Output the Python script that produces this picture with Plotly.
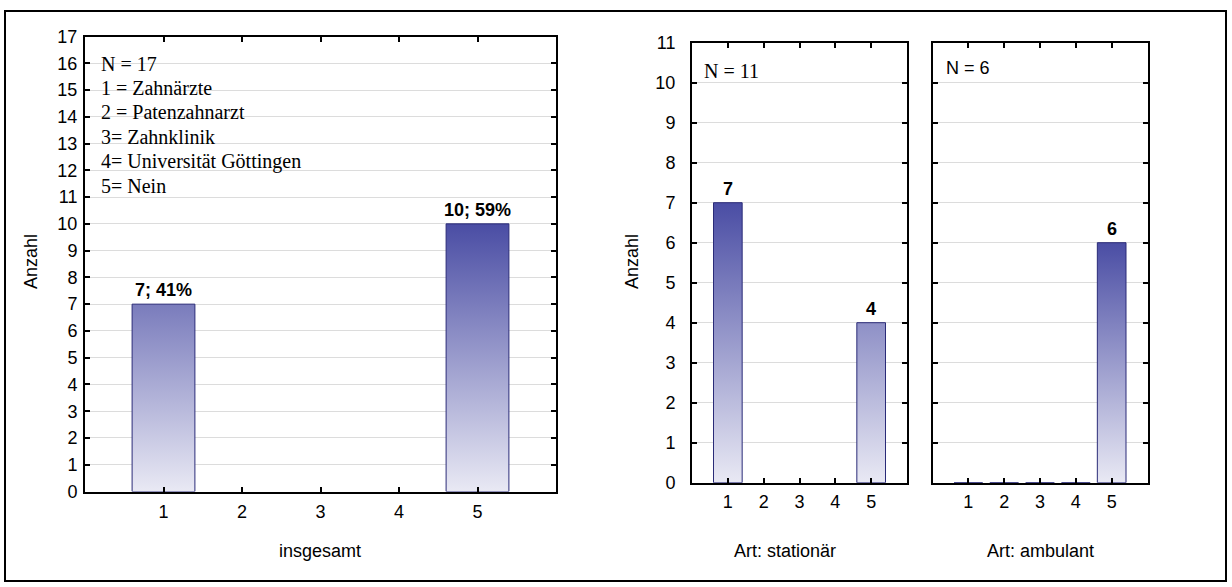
import plotly.graph_objects as go

# ---------------- data ----------------
categories = [1, 2, 3, 4, 5]
insgesamt = [7, None, None, None, 10]
stationaer = [7, None, None, None, 4]
ambulant = [0, 0, 0, 0, 6]
legend_lines = ["N = 17", "1 = Zahnärzte", "2 = Patenzahnarzt", "3= Zahnklinik",
                "4= Universität Göttingen", "5= Nein"]
n_stationaer_label = "N = 11"
n_ambulant_label = "N = 6"
y_ticks_left = list(range(0, 18))
y_ticks_right = list(range(0, 12))
x_titles = ["insgesamt", "Art: stationär", "Art: ambulant"]

W, H = 1232, 587
SANS = "Arial, Liberation Sans, sans-serif"
SERIF = "Times New Roman, Liberation Serif, serif"
DARK = "#4a4da4"
LIGHT = "#e9e9f4"
OUTLINE = "#2a2b78"


def px(x):
    return x / W


def py(y):
    return 1 - y / H


def bar_polygons(cats, vals, width=0.8):
    xs, ys = [], []
    for c, v in zip(cats, vals):
        if v is None:
            continue
        h = width / 2
        xs += [c - h, c - h, c + h, c + h, c - h, None]
        ys += [0, v, v, 0, 0, None]
    return xs, ys


fig = go.Figure()

panels = [
    ("x", "y", insgesamt),
    ("x2", "y2", stationaer),
    ("x3", "y3", ambulant),
]
for xa, ya, vals in panels:
    xs, ys = bar_polygons(categories, vals)
    vmax = max(v for v in vals if v is not None)
    fig.add_trace(go.Scatter(
        x=xs, y=ys, xaxis=xa, yaxis=ya, mode="lines", fill="toself",
        line=dict(color=OUTLINE, width=1),
        fillgradient=dict(type="vertical", start=0, stop=vmax,
                          colorscale=[[0, LIGHT], [1, DARK]]),
        hoverinfo="skip", showlegend=False,
    ))

annotations = []
LABEL_FONT = dict(family=SANS, size=18, color="black")
# value labels
total = sum(v for v in insgesamt if v is not None)
for c, v in zip(categories, insgesamt):
    if v:
        annotations.append(dict(x=c, y=v, xref="x", yref="y", yanchor="bottom",
                                text=f"<b>{v}; {round(100 * v / total)}%</b>",
                                showarrow=False, yshift=2, font=LABEL_FONT))
for xa, ya, vals in panels[1:]:
    for c, v in zip(categories, vals):
        if v:
            annotations.append(dict(x=c, y=v, xref=xa, yref=ya, yanchor="bottom",
                                    text=f"<b>{v}</b>", showarrow=False, yshift=2,
                                    font=LABEL_FONT))

# legend text in left panel
for i, t in enumerate(legend_lines):
    annotations.append(dict(x=px(99), y=py(63.5 + 24.4 * i), xref="paper", yref="paper",
                            xanchor="left", yanchor="middle", text=t, showarrow=False,
                            font=dict(family=SERIF, size=20, color="black")))
annotations.append(dict(x=px(702), y=py(71), xref="paper", yref="paper",
                        xanchor="left", yanchor="middle", text=n_stationaer_label,
                        showarrow=False, font=dict(family=SERIF, size=20, color="black")))
annotations.append(dict(x=px(944), y=py(68), xref="paper", yref="paper",
                        xanchor="left", yanchor="middle", text=n_ambulant_label,
                        showarrow=False, font=dict(family=SANS, size=18, color="black")))

# axis titles
for xc, t in zip([320, 785, 1040], x_titles):
    annotations.append(dict(x=px(xc), y=py(551), xref="paper", yref="paper",
                            xanchor="center", yanchor="middle", text=t, showarrow=False,
                            font=dict(family=SANS, size=18, color="black")))
for xc in [31, 632]:
    annotations.append(dict(x=px(xc), y=py(262), xref="paper", yref="paper",
                            xanchor="center", yanchor="middle", text="Anzahl",
                            textangle=-90, showarrow=False,
                            font=dict(family=SANS, size=18, color="black")))

TICK_FONT = dict(family=SANS, size=18, color="black")
common_axis = dict(showline=True, linecolor="black", linewidth=2, mirror="ticks",
                   ticks="inside", ticklen=5, tickwidth=2, tickcolor="black",
                   tickfont=TICK_FONT, zeroline=False, automargin=False)
xcommon = dict(common_axis, showgrid=False, range=[0, 6], tickvals=categories,
               ticktext=[str(c) for c in categories])
ycommon = dict(common_axis, showgrid=True, gridcolor="#dcdcdc", gridwidth=1)

fig.update_layout(
    template="none",
    width=W, height=H, margin=dict(l=0, r=0, t=0, b=0, pad=0), autosize=False,
    paper_bgcolor="white", plot_bgcolor="white", showlegend=False,
    xaxis=dict(xcommon, domain=[px(85), px(556)], anchor="y", ticklabelstandoff=3),
    yaxis=dict(ycommon, domain=[py(491.5), py(36.5)], anchor="x", range=[0, 17],
               tickvals=y_ticks_left, ticklabelstandoff=2),
    xaxis2=dict(xcommon, domain=[px(692), px(907)], anchor="y2", ticklabelstandoff=2),
    yaxis2=dict(ycommon, domain=[py(482.7), py(42.7)], anchor="x2", range=[0, 11],
                tickvals=y_ticks_right, ticklabelstandoff=11),
    xaxis3=dict(xcommon, domain=[px(932.5), px(1147.5)], anchor="y3", ticklabelstandoff=2),
    yaxis3=dict(ycommon, domain=[py(482.7), py(42.7)], anchor="x3", range=[0, 11],
                tickvals=y_ticks_right, showticklabels=False),
    annotations=annotations,
    shapes=[dict(type="rect", xref="paper", yref="paper",
                 x0=px(5), x1=px(1226), y0=py(581), y1=py(11),
                 line=dict(color="black", width=2), fillcolor="rgba(0,0,0,0)")],
)

fig.write_html("out.html")
